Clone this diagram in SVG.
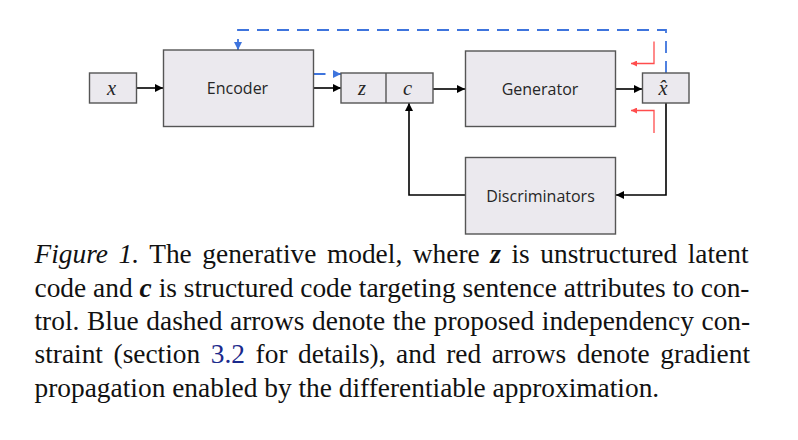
<svg xmlns="http://www.w3.org/2000/svg" width="798" height="440" viewBox="0 0 798 440">
<style>
.box{fill:#ebe9ee;stroke:#555;stroke-width:1.4}
.lbl{font-family:"Open Sans","Noto Sans",sans-serif;font-size:16px;fill:#262626;text-anchor:middle}
.math{font-family:"Liberation Serif",serif;font-style:italic;font-size:20.5px;fill:#262626;text-anchor:middle}
.blk{fill:none;stroke:#000;stroke-width:1.6}
.blu{fill:none;stroke:#3e74dd;stroke-width:1.8;stroke-dasharray:12 8}
.red{fill:none;stroke:#ff4d4d;stroke-width:1.3}
.cap{font-family:"Liberation Serif","Times New Roman",serif;font-size:27.4px;fill:#111}
</style>
<defs>
<marker id="ah" viewBox="0 0 10 10" refX="10" refY="5" markerWidth="8" markerHeight="8" markerUnits="userSpaceOnUse" orient="auto"><path d="M0,0 L10,5 L0,10 z" fill="#000"/></marker>
<marker id="ahb" viewBox="0 0 10 10" refX="10" refY="5" markerWidth="8" markerHeight="8" markerUnits="userSpaceOnUse" orient="auto"><path d="M0,0 L10,5 L0,10 z" fill="#3e74dd"/></marker>
<marker id="ahr" viewBox="0 0 10 10" refX="10" refY="5" markerWidth="7" markerHeight="6" markerUnits="userSpaceOnUse" orient="auto"><path d="M0,0 L10,5 L0,10 z" fill="#ff4d4d"/></marker>
</defs>

<g id="connectors">
<line class="blk" x1="137" y1="88" x2="163" y2="88" marker-end="url(#ah)"/>
<line class="blk" x1="313" y1="88" x2="341" y2="88" marker-end="url(#ah)"/>
<line class="blk" x1="433" y1="89" x2="465" y2="89" marker-end="url(#ah)"/>
<line class="blk" x1="616" y1="89" x2="642" y2="89" marker-end="url(#ah)"/>
<polyline class="blk" points="666,103 666,195 616,195" marker-end="url(#ah)"/>
<polyline class="blk" points="465,195 409,195 409,103" marker-end="url(#ah)"/>
<polyline class="blu" points="666,73 666,30 238,30 238,50" marker-end="url(#ahb)"/>
<line class="blu" x1="313.5" y1="74" x2="341" y2="74" stroke-dasharray="20 3" marker-end="url(#ahb)"/>
<polyline class="red" points="654,41.5 654,63.5 631,63.5" marker-end="url(#ahr)"/>
<polyline class="red" points="654,133 654,110.5 631,110.5" marker-end="url(#ahr)"/>
</g>

<g id="node-x">
<rect class="box" x="89.5" y="73" width="47" height="30"/>
<text class="math" x="111.5" y="94.5">x</text>
</g>
<g id="node-encoder">
<rect class="box" x="163.5" y="50" width="150" height="76.5"/>
<text class="lbl" x="237.5" y="94">Encoder</text>
</g>
<g id="node-zc">
<rect class="box" x="341" y="73" width="92" height="30"/>
<line x1="386" y1="73" x2="386" y2="103" stroke="#555" stroke-width="1.4"/>
<text class="math" x="362" y="94.5">z</text>
<text class="math" x="407.5" y="94.5">c</text>
</g>
<g id="node-generator">
<rect class="box" x="465.5" y="51" width="150" height="75.5"/>
<text class="lbl" x="540" y="95">Generator</text>
</g>
<g id="node-xhat">
<rect class="box" x="642.5" y="73" width="46.5" height="30"/>
<text class="math" x="663" y="94.5">x̂</text>
</g>
<g id="node-discriminators">
<rect class="box" x="465.5" y="157.5" width="150" height="76.5"/>
<text class="lbl" x="540.5" y="202">Discriminators</text>
</g>

<g id="caption" class="cap">
<text x="34.5" y="263" word-spacing="3.7"><tspan font-style="italic">Figure 1.</tspan> The generative model, where <tspan font-weight="bold" font-style="italic">z</tspan> is unstructured latent</text>
<text x="34.5" y="296.5" word-spacing="0.05">code and <tspan font-weight="bold" font-style="italic">c</tspan> is structured code targeting sentence attributes to con-</text>
<text x="34.5" y="329.8" word-spacing="0.75">trol. Blue dashed arrows denote the proposed independency con-</text>
<text x="34.5" y="363.2" word-spacing="3.7">straint (section <tspan fill="#1a2a8c">3.2</tspan> for details), and red arrows denote gradient</text>
<text x="34.5" y="396.6">propagation enabled by the differentiable approximation.</text>
</g>
</svg>
